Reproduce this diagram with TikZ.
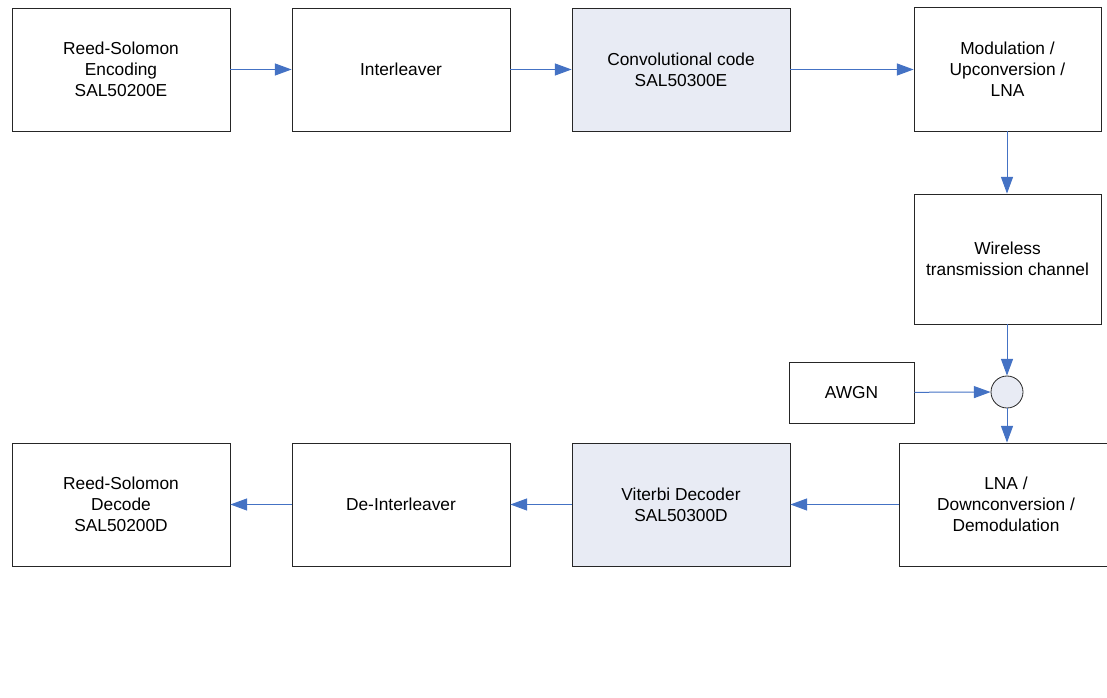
\documentclass[tikz,border=0pt]{standalone}
\usepackage{fontspec}
\setmainfont{Liberation Sans}
\usetikzlibrary{arrows.meta}
\definecolor{arrowblue}{HTML}{4472C4}
\definecolor{boxfill}{HTML}{E8EBF4}
\begin{document}
\begin{tikzpicture}[x=0.75pt,y=-0.75pt,
  blk/.style={draw=black!85,line width=0.6pt,fill=white,inner sep=0pt,align=center,
    font=\fontsize{13}{15.75}\selectfont},
  shaded/.style={blk,fill=boxfill},
  conn/.style={draw=arrowblue,line width=0.75pt,-{Triangle[length=12.5pt,width=9pt]}}]
\useasboundingbox (0,0) rectangle (1107,698);
\begin{scope}
\clip (0,0) rectangle (1107,698);
\node[blk,minimum width=163.5pt,minimum height=92.25pt] (rse) at (121,69.5) {Reed-Solomon\\Encoding\\SAL50200E};
\node[blk,minimum width=163.5pt,minimum height=92.25pt] (int) at (401,69.5) {Interleaver};
\node[shaded,minimum width=163.5pt,minimum height=92.25pt] (conv) at (681,69.5) {Convolutional code\\SAL50300E};
\node[blk,minimum width=140.25pt,minimum height=93pt] (mod) at (1007.5,69) {Modulation /\\Upconversion /\\LNA};
\node[blk,minimum width=140.25pt,minimum height=97.5pt] (wir) at (1007.5,259) {Wireless\\transmission channel};
\node[blk,minimum width=93.75pt,minimum height=45.75pt] (awgn) at (851.5,392.5) {AWGN};
\node[draw=black!85,line width=0.6pt,fill=boxfill,circle,minimum size=24pt,inner sep=0pt] (sum) at (1007,392) {};
\node[blk,minimum width=160.5pt,minimum height=92.25pt] (lna) at (1006,504.5) {LNA /\\Downconversion /\\Demodulation};
\node[shaded,minimum width=163.5pt,minimum height=92.25pt] (vit) at (681,504.5) {Viterbi Decoder\\SAL50300D};
\node[blk,minimum width=163.5pt,minimum height=92.25pt] (dei) at (401,504.5) {De-Interleaver};
\node[blk,minimum width=163.5pt,minimum height=92.25pt] (rsd) at (121,504.5) {Reed-Solomon\\Decode\\SAL50200D};
\end{scope}
\draw[conn] (rse) -- (int);
\draw[conn] (int) -- (conv);
\draw[conn] (conv.east) -- (mod.west |- conv.east);
\draw[conn] (mod.south -| sum) -- (wir.north -| sum);
\draw[conn] (wir.south -| sum) -- (sum);
\draw[conn] (awgn) -- (sum);
\draw[conn] (sum) -- (lna.north -| sum);
\draw[conn] (lna.west) -- (vit.east |- lna.west);
\draw[conn] (vit) -- (dei);
\draw[conn] (dei) -- (rsd);
\end{tikzpicture}
\end{document}
